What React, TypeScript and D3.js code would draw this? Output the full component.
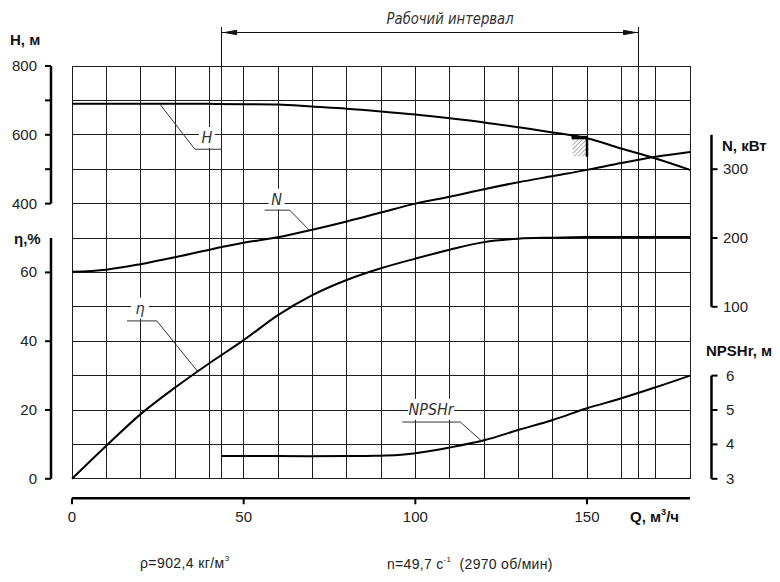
import React from 'react';
import * as d3 from 'd3';

// Pump characteristic data
const flowQ = [0, 10, 20, 30, 40, 50, 60, 70, 80, 90, 100, 110, 120, 130, 140, 150, 160, 170, 180];
const headH = [690, 690, 690, 690, 690, 689, 688, 682, 676, 668, 659, 648, 636, 622, 607, 590, 560, 531, 498];
const powerN = [151, 154, 162, 172, 183, 193, 201, 212, 224, 237, 250, 260, 271, 281, 290, 299, 309, 318, 325];
const efficiency = [0, 9.6, 18.8, 26.5, 33.6, 40.3, 47.6, 53.4, 57.8, 61.2, 64, 66.6, 68.8, 69.8, 70.1, 70.3, 70.3, 70.3, 70.3];
const npshQ = [43.6, 60, 80, 88, 95, 100, 110, 120, 130, 140, 150, 160, 170, 180];
const npshR = [3.66, 3.66, 3.66, 3.67, 3.69, 3.74, 3.91, 4.12, 4.42, 4.71, 5.05, 5.34, 5.66, 6.0];

const workRange = [43.6, 165];
const qTicks = [0, 50, 100, 150];
const hTicks = [400, 500, 600, 700, 800];
const hLabels = [400, 600, 800];
const etaTicks = [0, 20, 40, 60];
const nTicks = [100, 200, 300];
const npshTicks = [3, 4, 5, 6];

const FONT = "'Liberation Sans', Arial, sans-serif";
const ITALIC = "'DejaVu Sans Condensed', 'Liberation Sans Narrow', 'Liberation Sans', sans-serif";

const App: React.FC = () => {
  // Scales
  const x = d3.scaleLinear().domain([0, 180]).range([72, 690]);
  const grid = d3.scaleLinear().domain([0, 120]).range([478.8, 66]); // one row = 10 units
  const yEta = grid;
  const yH = d3.scaleLinear().domain([400, 800]).range([grid(80), grid(120)]);
  const yN = d3.scaleLinear().domain([100, 300]).range([grid(50), grid(90)]);
  const yNpsh = d3.scaleLinear().domain([3, 6]).range([grid(0), grid(30)]);

  const curve = (ys: number[], qs: number[], y: d3.ScaleLinear<number, number>) =>
    d3
      .line<number>()
      .x((_, i) => x(qs[i]))
      .y(d => y(d))
      .curve(d3.curveCatmullRom.alpha(0.5))(ys) as string;

  const hLine = curve(headH, flowQ, yH);
  const nLine = curve(powerN, flowQ, yN);
  const etaLine = curve(efficiency, flowQ, yEta);
  const npshLine = curve(npshR, npshQ, yNpsh);

  const gridRows = d3.range(0, 121, 10);
  const gridCols = [...d3.range(0, 181, 10), ...workRange];

  // Curve labels: text position and leader points in (Q, grid units)
  const labels: { text: string; tq: number; tg: number; w: number; pts: [number, number][] }[] = [
    { text: 'H', tq: 39.3, tg: 97.6, w: 16, pts: [[25.6, grid.invert(yH(689))], [35.8, 95.8], [43.6, 95.8]] },
    { text: 'N', tq: 59.6, tg: 79.7, w: 16, pts: [[56.1, 78.1], [63.4, 78.1], [69.2, grid.invert(yN(211))]] },
    { text: 'η', tq: 19.8, tg: 48.0, w: 18, pts: [[16, 45.9], [24.7, 45.9], [36.6, grid.invert(yEta(31.2))]] },
    { text: 'NPSHr', tq: 104.6, tg: 18.6, w: 46, pts: [[96.2, 16.5], [113.1, 16.5], [119.5, grid.invert(yNpsh(4.08))]] },
  ];

  const leader = d3
    .line<[number, number]>()
    .x(d => x(d[0]))
    .y(d => grid(d[1]));

  const axisX = 51;
  const rightAxisX = 711.5;
  const xAxisY = 498.3;
  const textColor = '#222';

  // optimum point marker
  const mq0 = 145.5;
  const mq1 = 150;

  return (
    <svg
      width={780}
      height={582}
      style={{ position: 'absolute', left: 0, top: 0, background: '#fff' }}
      fontFamily={FONT}
    >
      <defs>
        <pattern id="hatch" width="3" height="3" patternUnits="userSpaceOnUse" patternTransform="rotate(45)">
          <line x1="0" y1="0" x2="0" y2="3" stroke="#777" strokeWidth="1.2" />
        </pattern>
      </defs>
      <rect x={0} y={0} width={780} height={582} fill="#fff" />

      {/* grid */}
      <g stroke="#1e1e1e" strokeWidth={1} shapeRendering="crispEdges">
        {gridRows.map(g => (
          <line key={'r' + g} x1={x(0)} x2={x(180)} y1={grid(g)} y2={grid(g)} />
        ))}
        {gridCols.map(q => (
          <line key={'c' + q} x1={x(q)} x2={x(q)} y1={grid(120)} y2={grid(0)} />
        ))}
      </g>

      {/* working interval */}
      <g stroke="#111" strokeWidth={1} fill="#111">
        {workRange.map(q => (
          <line key={'w' + q} x1={x(q)} x2={x(q)} y1={27} y2={grid(120)} shapeRendering="crispEdges" />
        ))}
        <line x1={x(workRange[0])} x2={x(workRange[1])} y1={32.5} y2={32.5} />
        <path d={`M${x(workRange[0]) + 3},32.5 l12,-2.2 l0,4.4 z`} />
        <path d={`M${x(workRange[1]) - 3},32.5 l-12,-2.2 l0,4.4 z`} />
      </g>
      <text
        x={(x(workRange[0]) + x(workRange[1])) / 2 + 20}
        y={24}
        textAnchor="middle"
        fontFamily={ITALIC}
        fontStyle="italic"
        fontSize={16}
        fill="#333"
        textLength={127}
        lengthAdjust="spacingAndGlyphs"
      >
        Рабочий интервал
      </text>

      {/* curves */}
      <g fill="none" stroke="#000" strokeWidth={2} strokeLinejoin="round">
        <path d={hLine} />
        <path d={nLine} />
        <path d={etaLine} />
        <path d={npshLine} />
      </g>

      {/* optimum marker */}
      <rect x={x(mq0) + 1} y={yH(593) + 1} width={x(mq1) - x(mq0) - 2} height={yH(540) - yH(593)} fill="url(#hatch)" />
      <line x1={x(mq0)} x2={x(mq1) + 1} y1={yH(592)} y2={yH(592)} stroke="#000" strokeWidth={3.5} />
      <line x1={x(mq1)} x2={x(mq1)} y1={yH(592)} y2={yH(536)} stroke="#000" strokeWidth={2.5} />

      {/* curve labels */}
      {labels.map(l => (
        <g key={l.text}>
          <rect x={x(l.tq) - l.w / 2} y={grid(l.tg) - 16} width={l.w} height={21} fill="#fff" />
          <path d={leader(l.pts) as string} fill="none" stroke="#333" strokeWidth={1} />
          <text
            x={x(l.tq)}
            y={grid(l.tg)}
            textAnchor="middle"
            fontFamily={ITALIC}
            fontStyle="italic"
            fontSize={16}
            fill="#333"
          >
            {l.text}
          </text>
        </g>
      ))}

      {/* left axes */}
      <g stroke="#000" strokeWidth={2.5}>
        <line x1={axisX} x2={axisX} y1={yH(800)} y2={yH(400)} />
        {hTicks.map(t => (
          <line key={'ht' + t} x1={axisX - 6} x2={axisX} y1={yH(t)} y2={yH(t)} strokeWidth={2} />
        ))}
        <line x1={axisX} x2={axisX} y1={yEta(70)} y2={yEta(0)} />
        {etaTicks.map(t => (
          <line key={'et' + t} x1={axisX - 6} x2={axisX} y1={yEta(t)} y2={yEta(t)} strokeWidth={2} />
        ))}
      </g>
      <g fontSize={15} fill={textColor} textAnchor="end">
        {hLabels.map(t => (
          <text key={'hl' + t} x={37} y={yH(t) + 5}>
            {t}
          </text>
        ))}
        {etaTicks.map(t => (
          <text key={'el' + t} x={37} y={yEta(t) + 5}>
            {t}
          </text>
        ))}
      </g>
      <text x={10} y={45} fontSize={15} fontWeight="bold" fill="#111">
        H, м
      </text>
      <text x={14} y={244} fontSize={15} fontWeight="bold" fill="#111">
        η,%
      </text>

      {/* right axes */}
      <g stroke="#000" strokeWidth={2.5}>
        <line x1={rightAxisX} x2={rightAxisX} y1={yN(350)} y2={yN(100)} />
        {nTicks.map(t => (
          <line key={'nt' + t} x1={rightAxisX} x2={rightAxisX + 6} y1={yN(t)} y2={yN(t)} strokeWidth={2} />
        ))}
        <line x1={rightAxisX} x2={rightAxisX} y1={yNpsh(6)} y2={yNpsh(3)} />
        {npshTicks.map(t => (
          <line key={'pt' + t} x1={rightAxisX} x2={rightAxisX + 6} y1={yNpsh(t)} y2={yNpsh(t)} strokeWidth={2} />
        ))}
      </g>
      <g fontSize={15} fill={textColor}>
        {nTicks.map(t => (
          <text key={'nl' + t} x={723} y={yN(t) + 5}>
            {t}
          </text>
        ))}
        {npshTicks.map(t => (
          <text key={'pl' + t} x={726} y={yNpsh(t) + 5}>
            {t}
          </text>
        ))}
      </g>
      <text x={722} y={151} fontSize={15} fontWeight="bold" fill="#111">
        N, кВт
      </text>
      <text x={706} y={356} fontSize={15} fontWeight="bold" fill="#111">
        NPSHr, м
      </text>

      {/* bottom axis */}
      <line x1={x(0)} x2={x(180)} y1={xAxisY} y2={xAxisY} stroke="#000" strokeWidth={2.5} />
      {qTicks.map(t => (
        <g key={'q' + t}>
          <line x1={x(t)} x2={x(t)} y1={xAxisY} y2={xAxisY + 6} stroke="#000" strokeWidth={2} />
          <text x={x(t)} y={522} textAnchor="middle" fontSize={15} fill={textColor}>
            {t}
          </text>
        </g>
      ))}
      <text x={630} y={522} fontSize={15} fontWeight="bold" fill="#111">
        Q, м
        <tspan fontSize={9} dy={-7}>
          3
        </tspan>
        <tspan dy={7}>/ч</tspan>
      </text>

      {/* notes */}
      <text x={140} y={568} fontSize={14} fill={textColor} letterSpacing={0.4}>
        ρ=902,4 кг/м
        <tspan fontSize={8} dy={-7}>
          3
        </tspan>
      </text>
      <text x={387} y={569} fontSize={14} fill={textColor} letterSpacing={0.3}>
        n=49,7 с
        <tspan fontSize={8} dy={-7}>
          -1
        </tspan>
        <tspan dy={7}>{'\u00a0\u00a0(2970 об/мин)'}</tspan>
      </text>
    </svg>
  );
};

export default App;
